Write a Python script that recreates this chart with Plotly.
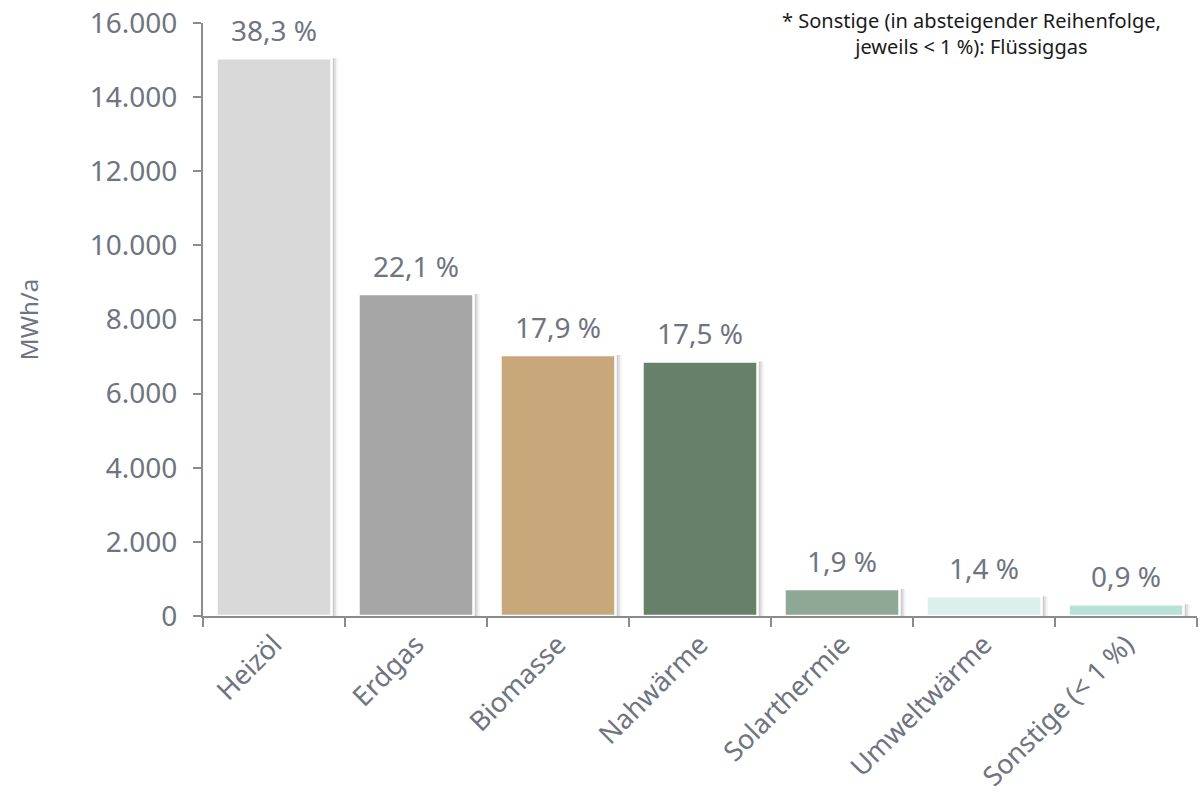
import plotly.graph_objects as go

categories = ["Heizöl", "Erdgas", "Biomasse", "Nahwärme", "Solarthermie", "Umweltwärme", "Sonstige (< 1 %)"]
values = [15050, 8690, 7040, 6870, 730, 530, 320]
pct_labels = ["38,3 %", "22,1 %", "17,9 %", "17,5 %", "1,9 %", "1,4 %", "0,9 %"]
colors = ["#d9d9d9", "#a6a6a6", "#c8a87b", "#67806a", "#8fa795", "#dbefeb", "#b8e2d8"]
y_ticks = [0, 2000, 4000, 6000, 8000, 10000, 12000, 14000, 16000]
note_text = "* Sonstige (in absteigender Reihenfolge,<br>jeweils < 1 %): Flüssiggas"

txt = "#6e7480"
font_family = "Noto Sans, DejaVu Sans, sans-serif"
FS = 28

fig = go.Figure()
# soft shadow layers
for k, a in [(0.045, 0.06), (0.032, 0.10), (0.02, 0.16)]:
    fig.add_trace(go.Bar(
        x=categories, y=values, width=0.81, offset=-0.405 + k,
        marker=dict(color=f"rgba(80,80,80,{a})", line=dict(width=0)),
        hoverinfo="skip", showlegend=False,
    ))
fig.add_trace(go.Bar(
    x=categories, y=values, width=0.81, offset=-0.405,
    marker=dict(color=colors, line=dict(color="white", width=2.5)),
    showlegend=False,
))
for c, v, t in zip(categories, values, pct_labels):
    fig.add_annotation(x=c, y=v, text=t, showarrow=False, yanchor="bottom",
                       yshift=7, font=dict(size=FS, color=txt, family=font_family))

fig.add_annotation(xref="paper", yref="paper", x=0.773, y=1.030, xanchor="center", yanchor="top",
                   text=note_text, showarrow=False, align="center",
                   font=dict(size=20, color="#1a1a1a", family=font_family))

fig.update_layout(
    width=1203, height=798,
    margin=dict(l=203, r=6, t=23, b=182, autoexpand=False),
    paper_bgcolor="white", plot_bgcolor="white",
    barmode="overlay",
    separators=",.",
    font=dict(family=font_family, color=txt, size=FS),
)
fig.update_xaxes(
    showline=True, linecolor="#8c8c8c", linewidth=2,
    ticks="outside", tickson="boundaries", ticklen=9, tickwidth=2, tickcolor="#8c8c8c",
    tickangle=-45, tickfont=dict(size=27, color=txt),
    showgrid=False, range=[-0.5, 6.5], automargin=False,
)
fig.update_yaxes(
    range=[0, 16000], tickvals=y_ticks, tickformat=",d",
    showline=True, linecolor="#8c8c8c", linewidth=2,
    ticks="outside", ticklen=8, tickwidth=2, tickcolor="#8c8c8c",
    ticklabelstandoff=10,
    showgrid=False, zeroline=False, automargin=False,
    tickfont=dict(size=FS, color=txt),
    title=dict(text="MWh/a", font=dict(size=24, color=txt), standoff=44),
)

fig.write_html("out.html", config={"displayModeBar": False},
               post_script="document.body.style.margin='0';")
